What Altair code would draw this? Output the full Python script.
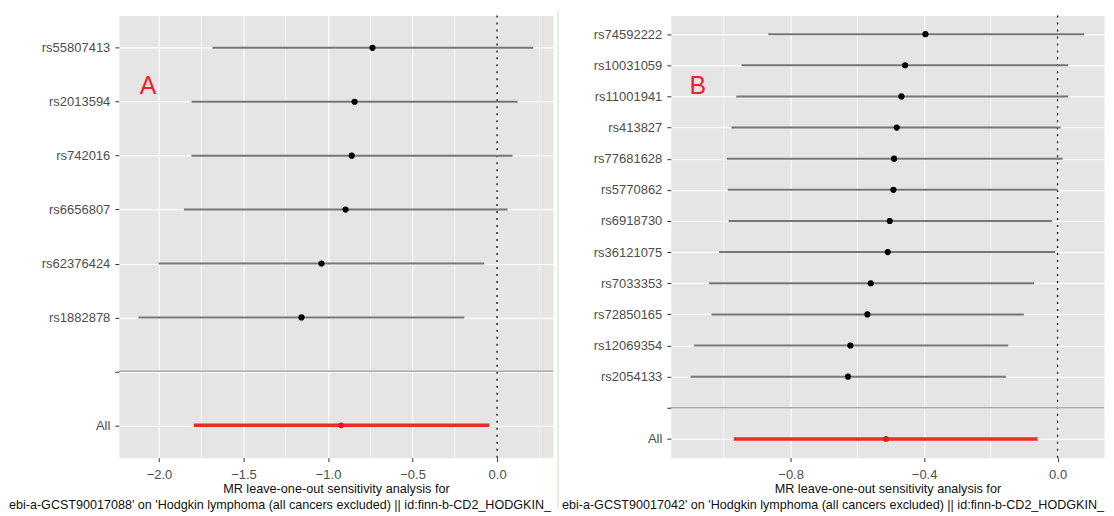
import altair as alt
import pandas as pd

FONT = "Liberation Sans"

# ---------------- Panel A data ----------------
a_snp = ["rs55807413", "rs2013594", "rs742016", "rs6656807", "rs62376424", "rs1882878"]
a_b = [-0.737, -0.843, -0.860, -0.896, -1.039, -1.157]
a_lo = [-1.684, -1.808, -1.808, -1.853, -2.003, -2.121]
a_up = [0.214, 0.121, 0.091, 0.062, -0.076, -0.194]
a_all = [-0.923, -1.794, -0.046]  # estimate, lower, upper
a_ticks = [-2.0, -1.5, -1.0, -0.5, 0.0]
a_minor = [-1.75, -1.25, -0.75, -0.25, 0.25]
a_line2 = "ebi-a-GCST90017088' on 'Hodgkin lymphoma (all cancers excluded) || id:finn-b-CD2_HODGKIN_"

# ---------------- Panel B data ----------------
b_snp = ["rs74592222", "rs10031059", "rs11001941", "rs413827", "rs77681628", "rs5770862",
         "rs6918730", "rs36121075", "rs7033353", "rs72850165", "rs12069354", "rs2054133"]
b_b = [-0.396, -0.457, -0.468, -0.482, -0.490, -0.492, -0.503, -0.509, -0.560, -0.570, -0.621, -0.628]
b_lo = [-0.867, -0.947, -0.963, -0.977, -0.991, -0.988, -0.986, -1.014, -1.044, -1.037, -1.089, -1.100]
b_up = [0.080, 0.032, 0.032, 0.009, 0.015, 0.000, -0.017, -0.008, -0.071, -0.101, -0.148, -0.155]
b_all = [-0.514, -0.970, -0.060]
b_ticks = [-0.8, -0.4, 0.0]
b_minor = [-1.0, -0.6, -0.2]
b_line2 = "ebi-a-GCST90017042' on 'Hodgkin lymphoma (all cancers excluded) || id:finn-b-CD2_HODGKIN_"

title1 = "MR leave-one-out sensitivity analysis for"


def panel(snps, b, lo, up, allv, ticks, minor, line2, letter, letter_x, letter_row,
          letter_dy, line2_x, W, H, divider=False):
    cats = snps + ["", "All"]
    df = pd.DataFrame({"SNP": snps, "b": b, "lo": lo, "up": up})
    df_all = pd.DataFrame({"SNP": ["All"], "b": [allv[0]], "lo": [allv[1]], "up": [allv[2]]})
    lo_min = min(lo + [allv[1]])
    hi_max = max(up + [allv[2]])
    pad = 0.05 * (hi_max - lo_min)
    xs = alt.Scale(domain=[lo_min - pad, hi_max + pad], nice=False, zero=False)
    ys = alt.Scale(type="point", domain=cats, padding=0.6)

    xaxis = alt.Axis(values=ticks, format=".1f", grid=True, gridColor="white", gridWidth=1.1,
                     domain=False, tickColor="#333333", tickSize=4, tickWidth=1,
                     labelColor="#4d4d4d", labelFontSize=13, labelFont=FONT, labelPadding=7,
                     title=title1, titleFont=FONT, titleFontSize=12.7, titleFontWeight="normal",
                     titleColor="#111111", titleY=31, titleBaseline="middle")
    yaxis = alt.Axis(grid=True, gridColor="white", gridWidth=1.1, domain=False,
                     tickColor="#333333", tickSize=4, tickWidth=1, labelColor="#4d4d4d",
                     labelFontSize=13, labelFont=FONT, labelPadding=5, title=None)

    def X(f):
        return alt.X(f, scale=xs, axis=xaxis)

    def Y(f):
        return alt.Y(f, scale=ys, axis=yaxis)

    minor_layer = alt.Chart(pd.DataFrame({"lo": minor})).mark_rule(
        color="white", strokeWidth=0.6).encode(x=X("lo:Q"))

    vline = alt.Chart(pd.DataFrame({"lo": [0.0]})).mark_rule(
        color="black", strokeWidth=1.3, strokeDash=[2, 5]).encode(x=X("lo:Q"))

    segs = alt.Chart(df).mark_rule(color="#767676", strokeWidth=2).encode(
        x=X("lo:Q"), x2="up:Q", y=Y("SNP:N"))

    pts = alt.Chart(df).mark_circle(color="black", size=38, opacity=1).encode(
        x=X("b:Q"), y=Y("SNP:N"))

    seg_all = alt.Chart(df_all).mark_rule(color="#f02a2a", strokeWidth=3.5).encode(
        x=X("lo:Q"), x2="up:Q", y=Y("SNP:N"))

    pt_all = alt.Chart(df_all).mark_circle(color="#e41a1c", size=34, opacity=1).encode(
        x=X("b:Q"), y=Y("SNP:N"))

    sep = alt.Chart(pd.DataFrame({"SNP": [""]})).mark_rule(
        color="#a9a9a9", strokeWidth=1.5).encode(y=Y("SNP:N"))

    lab = alt.Chart(pd.DataFrame({"b": [letter_x], "SNP": [letter_row], "t": [letter]})).mark_text(
        font=FONT, fontSize=25, color="#f0202a", dy=letter_dy).encode(
        x=X("b:Q"), y=Y("SNP:N"), text="t:N")

    l2 = alt.Chart(pd.DataFrame({"t": [line2]})).mark_text(
        font=FONT, fontSize=12.6, color="#111111", align="left", baseline="middle").encode(
        x=alt.value(line2_x), y=alt.value(490), text="t:N")

    layers = [minor_layer, vline, segs, seg_all, pts, pt_all, sep, lab, l2]
    if divider:
        # thin light-green frame line separating the two screenshots
        div = alt.Chart(pd.DataFrame({"t": [0]})).mark_rule(
            color="#cde8cd", strokeWidth=1.2).encode(
            x=alt.value(-113), y=alt.value(-5), y2=alt.value(495))
        layers.append(div)
    return alt.layer(*layers).properties(width=W, height=H)


pA = panel(a_snp, a_b, a_lo, a_up, a_all, a_ticks, a_minor, a_line2, "A", -2.065,
           "rs2013594", -16, -110, 435, 443)
pB = panel(b_snp, b_b, b_lo, b_up, b_all, b_ticks, b_minor, b_line2, "B", -1.078,
           "rs11001941", -10, -109, 434, 443, divider=True)

chart = alt.hconcat(pA, pB, spacing=118, bounds="flush").properties(
    padding={"left": 0, "top": 0, "right": 0, "bottom": 0}
).configure_view(fill="#e5e5e5", stroke="transparent")

chart.save("out.html", embed_options={"renderer": "svg", "actions": False})
